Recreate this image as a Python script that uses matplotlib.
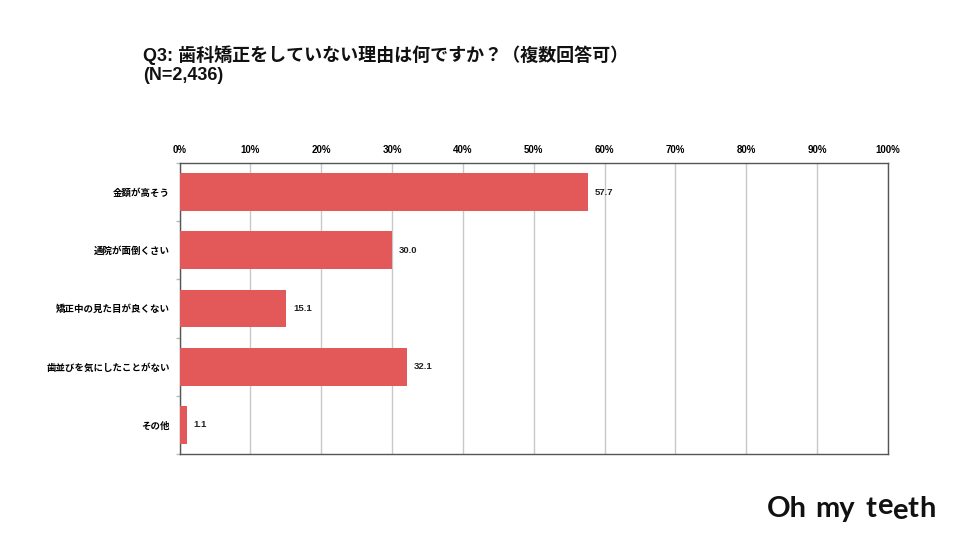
import matplotlib
matplotlib.use("Agg")
import matplotlib.pyplot as plt
import numpy as np

plt.rcParams['font.family'] = ['Liberation Sans', 'Noto Sans CJK JP']

# data
categories = ['金額が高そう', '通院が面倒くさい', '矯正中の見た目が良くない',
              '歯並びを気にしたことがない', 'その他']
values = [57.7, 30.0, 15.1, 32.1, 1.1]
xticks = [0, 10, 20, 30, 40, 50, 60, 70, 80, 90, 100]
title = 'Q3: 歯科矯正をしていない理由は何ですか？（複数回答可）\n(N=2,436)'

BAR = '#E35858'
W, H = 960, 540

fig = plt.figure(figsize=(9.6, 5.4), dpi=100)
ax = fig.add_axes([179.5 / W, 1 - 454 / H, (888 - 179.5) / W, (454 - 163) / H])

y = np.arange(len(categories))
ax.barh(y, values, height=0.65, color=BAR, zorder=3)
for yi, v in zip(y, values):
    ax.text(v + 0.9, yi, f'{v:.1f}', va='center', ha='left',
            fontsize=6.8, fontweight='bold', color='#222222', zorder=4)

ax.set_xlim(0, 100)
ax.set_ylim(len(categories) - 0.5, -0.5)
ax.set_xticks(xticks)
ax.set_xticklabels([f'{t}%' for t in xticks])
ax.xaxis.tick_top()
ax.tick_params(axis='x', length=0, pad=6, labelsize=7)
for lab in ax.get_xticklabels():
    lab.set_fontweight('bold')
ax.grid(axis='x', color='#c8c8c8', lw=1, zorder=0)

# category labels, ticks on category boundaries
ax.set_yticks(y)
ax.set_yticklabels(categories)
ax.tick_params(axis='y', length=0, pad=7, labelsize=6.8)
for lab in ax.get_yticklabels():
    lab.set_fontweight('bold')
ax.set_yticks(np.arange(len(categories) + 1) - 0.5, minor=True)
ax.tick_params(axis='y', which='minor', length=3, color='#bbbbbb', width=1)

for s in ax.spines.values():
    s.set_color('#555555')
    s.set_linewidth(1)

fig.text(143 / W, 1 - 45 / H, title, ha='left', va='top', fontsize=13,
         fontweight='bold', linespacing=1.2, color='#111111')

# logo, letters placed one by one (the two e's are offset)
logo_parts = [('Oh', 767, 517), ('my', 815, 517), ('t', 865, 517),
              ('e', 877, 514), ('e', 892, 519), ('t', 907, 517), ('h', 919, 517)]
for s, px, py in logo_parts:
    fig.text(px / W, 1 - py / H, s, ha='left', va='baseline',
             fontsize=21, fontweight='bold', family=['Lato'], color='#111111')

fig.savefig('out.png', dpi=100, facecolor='white')
